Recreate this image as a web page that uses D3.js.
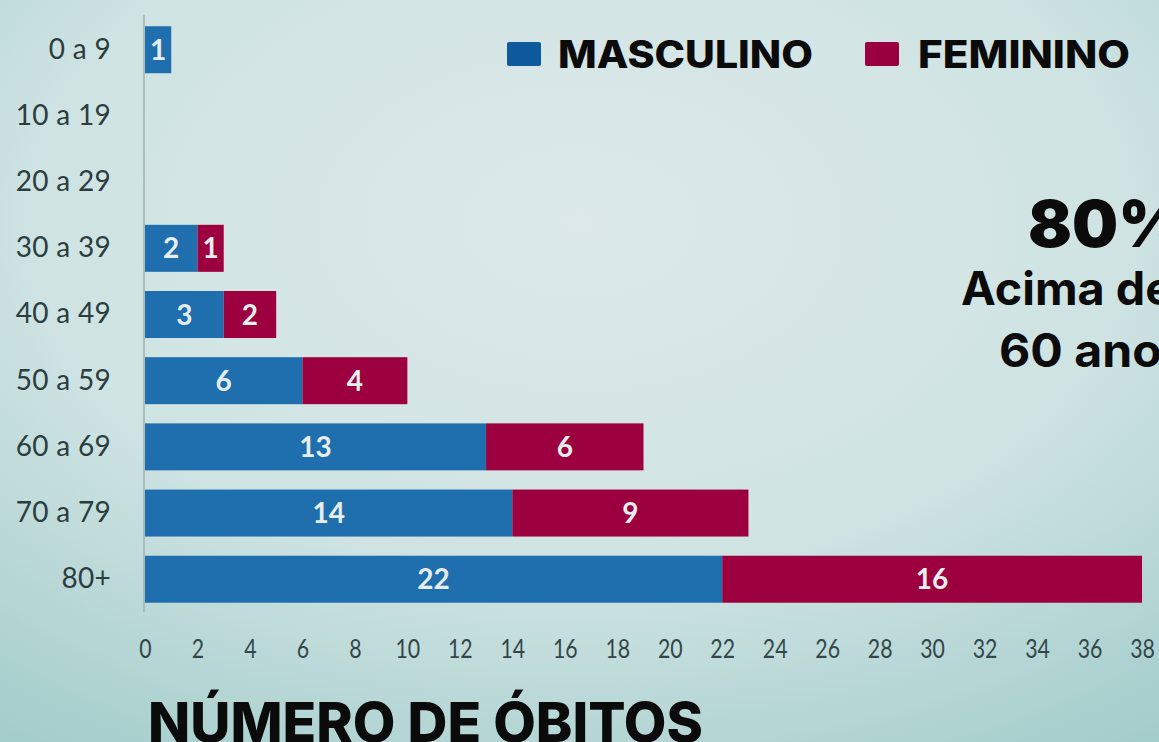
<!DOCTYPE html>
<html><head><meta charset="utf-8">
<script src="https://cdn.jsdelivr.net/npm/d3@7"></script>
<style>html,body{margin:0;padding:0;overflow:hidden;}svg{display:block;}</style>
</head><body>
<script>
const categories = ["0 a 9","10 a 19","20 a 29","30 a 39","40 a 49","50 a 59","60 a 69","70 a 79","80+"];
const masculino = [1,0,0,2,3,6,13,14,22];
const feminino  = [0,0,0,1,2,4,6,9,16];
const xTicks = d3.range(0, 39, 2);
const seriesNames = ["MASCULINO","FEMININO"];

const W = 1159, H = 742;
const svg = d3.select("body").append("svg").attr("width", W).attr("height", H);
const defs = svg.append("defs");
const g = defs.append("radialGradient").attr("id","bg").attr("cx","0.5").attr("cy","0.3").attr("r","0.85");
g.append("stop").attr("offset","0").attr("stop-color","#dde9ea");
g.append("stop").attr("offset","0.55").attr("stop-color","#cfe3e3");
g.append("stop").attr("offset","1").attr("stop-color","#a3cdcb");
svg.append("rect").attr("width",W).attr("height",H).attr("fill","url(#bg)");

const x = d3.scaleLinear().domain([0,38]).range([145,1142]);
const y = d3.scaleBand().domain(categories).range([17,612]).paddingInner(0.29).paddingOuter(0.14);

const colors = ["#1f6fae","#9d003f"];
const legendColors = ["#0f5a9c","#9a0040"];

// axes
const yAxis = svg.append("g").attr("transform","translate(144,0)")
  .call(d3.axisLeft(y).tickSize(0).tickPadding(33));
yAxis.select(".domain").attr("stroke","#9fb0b2").attr("stroke-width",1.5).attr("d","M0,15V612");
yAxis.selectAll("text").attr("font-family","Lato, 'Open Sans', sans-serif").attr("font-size",28)
  .attr("letter-spacing",0.3).attr("fill","#2b3d3f");

const xAxis = svg.append("g").attr("transform","translate(0,639)")
  .call(d3.axisBottom(x).tickValues(xTicks).tickSize(0).tickPadding(0));
xAxis.select(".domain").remove();
xAxis.selectAll("text").attr("font-family","Lato, 'Open Sans', sans-serif").attr("font-size",26)
  .attr("dy","0.72em").attr("transform","scale(0.82,1)").attr("fill","#33474a");

// stacked bars
const rows = categories.map((c,i)=>({cat:c, m:masculino[i], f:feminino[i]}));
const stack = d3.stack().keys(["m","f"])(rows);
stack.forEach((layer,k)=>{
  const gg = svg.append("g");
  gg.selectAll("rect").data(layer).join("rect")
    .attr("x", d=>x(d[0])).attr("y", d=>y(d.data.cat))
    .attr("width", d=>x(d[1])-x(d[0])).attr("height", y.bandwidth())
    .attr("fill", colors[k]);
  gg.selectAll("text").data(layer.filter(d=>d[1]-d[0]>0)).join("text")
    .attr("x", d=>(x(d[0])+x(d[1]))/2).attr("y", d=>y(d.data.cat)+y.bandwidth()/2)
    .attr("dy","0.36em").attr("text-anchor","middle")
    .attr("font-family","Lato, 'Open Sans', sans-serif").attr("font-weight",700).attr("font-size",28)
    .attr("fill","#e6eeee").text(d=>d[1]-d[0]);
});

// legend
const legX = [507, 865], legTX = [558, 918], legLen = [255, 212];
seriesNames.forEach((n,i)=>{
  svg.append("rect").attr("x",legX[i]).attr("y",42).attr("width",34).attr("height",24).attr("rx",2).attr("fill",legendColors[i]);
  svg.append("text").attr("x",legTX[i]).attr("y",68).attr("font-family","Inter, 'Noto Sans', sans-serif")
    .attr("font-weight",800).attr("font-size",38).attr("fill","#0b0b0b")
    .attr("textLength",legLen[i]).attr("lengthAdjust","spacingAndGlyphs").text(n);
});

// annotation (partly cut by the right edge, as in the reference)
svg.append("text").attr("x",1028).attr("y",247).attr("font-family","Inter, sans-serif").attr("font-weight",900)
  .attr("font-size",65).attr("fill","#0b0b0b").attr("textLength",158).attr("lengthAdjust","spacingAndGlyphs").text("80%");
svg.append("text").attr("x",961).attr("y",305).attr("font-family","Inter, sans-serif").attr("font-weight",700)
  .attr("font-size",46).attr("fill","#0b0b0b").attr("textLength",212).attr("lengthAdjust","spacingAndGlyphs").text("Acima de");
svg.append("text").attr("x",999).attr("y",367).attr("font-family","Inter, sans-serif").attr("font-weight",700)
  .attr("font-size",46).attr("fill","#0b0b0b").attr("textLength",190).attr("lengthAdjust","spacingAndGlyphs").text("60 anos");

// title
svg.append("text").attr("x",148).attr("y",742).attr("font-family","Inter, sans-serif").attr("font-weight",800)
  .attr("font-size",55).attr("fill","#0b0b0b").attr("textLength",555).attr("lengthAdjust","spacingAndGlyphs").text("NÚMERO DE ÓBITOS");
</script>
</body></html>
